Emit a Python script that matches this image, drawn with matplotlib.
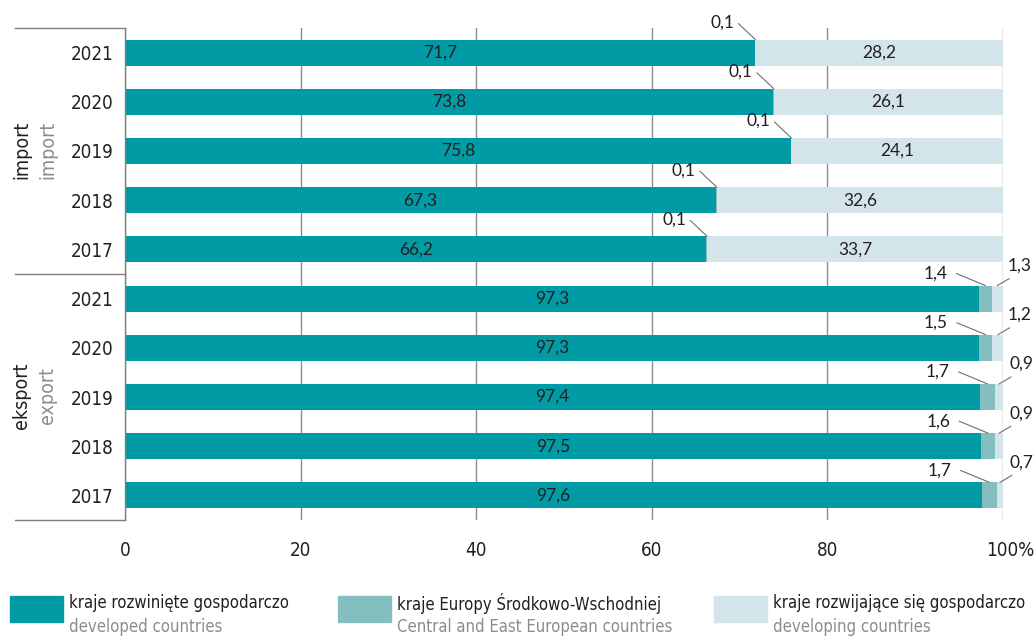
import numpy as np
import matplotlib
matplotlib.use("Agg")
import matplotlib.pyplot as plt
import matplotlib.transforms as mtransforms
from matplotlib.patches import Rectangle
from matplotlib.lines import Line2D

# data (shares in %), rows top to bottom: import 2021..2017, export 2021..2017
years = ["2021", "2020", "2019", "2018", "2017"]
import_dev = [71.7, 73.8, 75.8, 67.3, 66.2]
import_cee = [0.1, 0.1, 0.1, 0.1, 0.1]
import_dvp = [28.2, 26.1, 24.1, 32.6, 33.7]
export_dev = [97.3, 97.3, 97.4, 97.5, 97.6]
export_cee = [1.4, 1.5, 1.7, 1.6, 1.7]
export_dvp = [1.3, 1.2, 0.9, 0.9, 0.7]

series_pl = ["kraje rozwinięte gospodarczo", "kraje Europy Środkowo-Wschodniej",
             "kraje rozwijające się gospodarczo"]
series_en = ["developed countries", "Central and East European countries",
             "developing countries"]
colors = ["#009ba4", "#85bec1", "#d4e5e9"]

narrow = dict(family="DejaVu Sans", fontstretch="condensed")
numfont = ["Lato", "DejaVu Sans"]
txt = "#231f20"
gray = "#8c8c8c"

dev = np.array(import_dev + export_dev)
cee = np.array(import_cee + export_cee)
dvp = np.array(import_dvp + export_dvp)
ypos = np.arange(len(dev))
h = 0.53

fig = plt.figure(figsize=(10.34, 6.38), dpi=100)
W, H = 1034, 638
ax = fig.add_axes([125 / W, 1 - 520 / H, (1003 - 125) / W, (520 - 28) / H])

ax.barh(ypos, dev, height=h, color=colors[0], zorder=2)
ax.barh(ypos, cee, left=dev, height=h, color=colors[1], zorder=2)
ax.barh(ypos, dvp, left=dev + cee, height=h, color=colors[2], zorder=2)

ax.set_xlim(0, 100)
ax.set_ylim(9.5, -0.5)
ax.set_xticks([0, 20, 40, 60, 80, 100])
ax.set_xticklabels(["0", "20", "40", "60", "80", "100%"], fontsize=13.5, color=txt, **narrow)
ax.set_yticks(ypos)
ax.set_yticklabels(years + years, fontsize=13.5, color=txt, **narrow)
ax.tick_params(axis="both", length=0)
ax.tick_params(axis="x", pad=15)
ax.tick_params(axis="y", pad=8.5)
# "100%" sits a little right of its gridline
lbl = ax.get_xticklabels()[-1]
lbl.set_transform(lbl.get_transform() + mtransforms.ScaledTranslation(0.07, 0, fig.dpi_scale_trans))
for s in ["top", "bottom", "right"]:
    ax.spines[s].set_visible(False)
ax.spines["left"].set_color("#7f7f7f")
ax.spines["left"].set_linewidth(1)
ax.xaxis.grid(True, color="#8c8c8c", lw=1, zorder=0)
ax.set_axisbelow(True)

fmt = lambda v: f"{v:.1f}".replace(".", ",")

# labels inside bars
for i in range(len(dev)):
    ax.text(dev[i] / 2, ypos[i], fmt(dev[i]), ha="center", va="center",
            family=numfont, fontsize=12.5, color=txt, zorder=3)
    if dvp[i] > 5:
        ax.text(dev[i] + cee[i] + dvp[i] / 2, ypos[i], fmt(dvp[i]), ha="center",
                va="center", family=numfont, fontsize=12.5, color=txt, zorder=3)

line_kw = dict(arrowstyle="-", color="#6f6f6f", lw=0.8, shrinkA=0, shrinkB=0)

# small segments with leader lines
for i in range(len(dev)):
    top = ypos[i] - h / 2
    if dvp[i] > 5:
        x = dev[i] + cee[i]
        ax.annotate("", xy=(x, top), xytext=(-17, 16), textcoords="offset pixels",
                    arrowprops=line_kw, zorder=4)
        ax.annotate(fmt(cee[i]), xy=(x, top), xytext=(-21, 17), textcoords="offset pixels",
                    ha="right", va="center", family=numfont, fontsize=12.5, color=txt)
    else:
        x2 = dev[i] + cee[i] / 2
        ax.annotate("", xy=(x2, top), xytext=(-29, 12), textcoords="offset pixels",
                    arrowprops=line_kw, zorder=4)
        ax.annotate(fmt(cee[i]), xy=(x2, top), xytext=(-38, 12), textcoords="offset pixels",
                    ha="right", va="center", family=numfont, fontsize=12.5, color=txt)
        x3 = dev[i] + cee[i] + dvp[i] / 2
        ax.annotate("", xy=(x3, top), xytext=(12, 7), textcoords="offset pixels",
                    arrowprops=line_kw, zorder=4)
        ax.annotate(fmt(dvp[i]), xy=(x3, top), xytext=(10, 20), textcoords="offset pixels",
                    ha="left", va="center", family=numfont, fontsize=12.5, color=txt)

# group brackets and labels
for yp in [28, 274, 520]:
    fig.add_artist(Line2D([15 / W, 125 / W], [1 - yp / H, 1 - yp / H], color="#7f7f7f", lw=1))
for name, en, yc in [("import", "import", 150), ("eksport", "export", 396)]:
    fig.text(22 / W, 1 - yc / H, name, rotation=90, ha="center", va="center",
             fontsize=14, color=txt, **narrow)
    fig.text(48 / W, 1 - yc / H, en, rotation=90, ha="center", va="center",
             fontsize=14, color=gray, **narrow)

# legend
for k, x0 in enumerate([10, 338, 714]):
    fig.add_artist(Rectangle((x0 / W, 1 - 622 / H), 53 / W, 26 / H, color=colors[k],
                             transform=fig.transFigure))
    fig.text((x0 + 59) / W, 1 - 603 / H, series_pl[k], ha="left", va="center",
             fontsize=12, color=txt, **narrow)
    fig.text((x0 + 59) / W, 1 - 627 / H, series_en[k], ha="left", va="center",
             fontsize=12, color=gray, **narrow)

fig.savefig("out.png", dpi=100)
